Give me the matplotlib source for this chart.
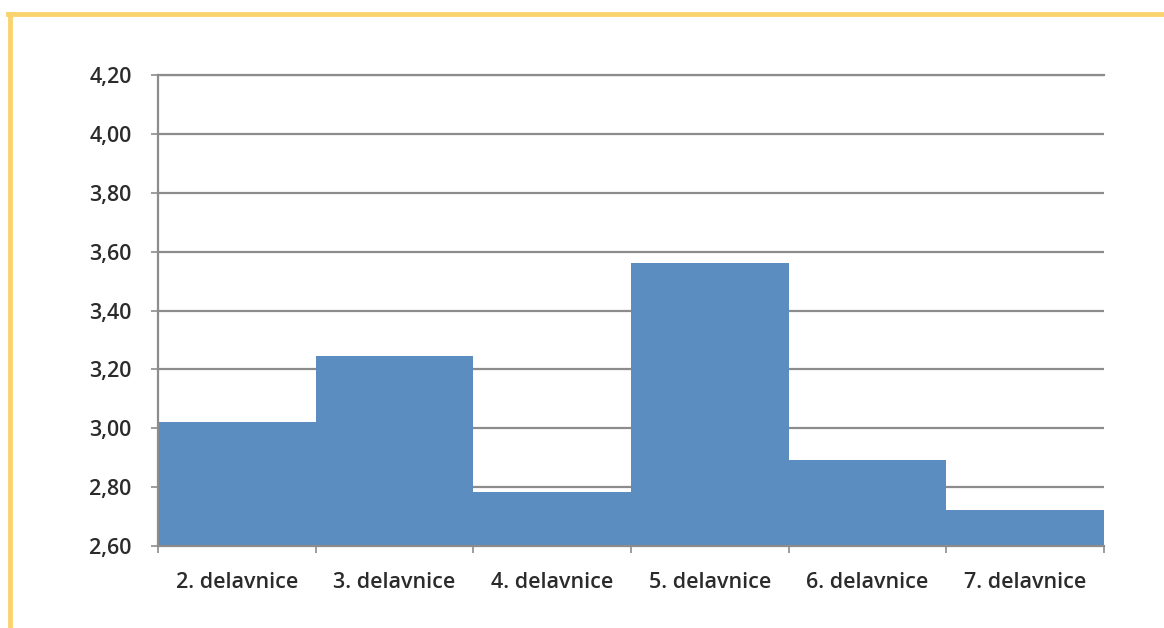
import matplotlib.pyplot as plt
from matplotlib.lines import Line2D
from matplotlib.ticker import FuncFormatter, FixedLocator

# Workshop averages
categories = ["2. delavnice", "3. delavnice", "4. delavnice",
              "5. delavnice", "6. delavnice", "7. delavnice"]
values = [3.02, 3.245, 2.783, 3.562, 2.892, 2.722]
y_ticks = [2.60, 2.80, 3.00, 3.20, 3.40, 3.60, 3.80, 4.00, 4.20]

plt.rcParams['font.family'] = ['Open Sans', 'DejaVu Sans']

fig = plt.figure(figsize=(11.64, 6.28), dpi=100)
ax = fig.add_axes([158 / 1164, 82 / 628, 946 / 1164, 471 / 628])

base = y_ticks[0]
xs = list(range(len(categories)))
ax.bar(xs, [v - base for v in values], bottom=base, width=1.0, align='edge',
       color='#5b8dc1', zorder=3)

ax.set_ylim(y_ticks[0], y_ticks[-1])
ax.set_xlim(0, len(categories))
ax.set_yticks(y_ticks)
ax.yaxis.set_major_formatter(FuncFormatter(lambda v, p: f"{v:.2f}".replace('.', ',')))
ax.grid(axis='y', color='#8c8c8c', linewidth=1.6, zorder=1)
ax.axhline(y_ticks[-1], color='#8c8c8c', linewidth=1.6, clip_on=False, zorder=1)

ax.set_xticks([x + 0.5 for x in xs])
ax.set_xticklabels(categories)
ax.xaxis.set_minor_locator(FixedLocator(list(range(len(categories) + 1))))
ax.tick_params(axis='x', which='major', length=0, pad=19)
ax.tick_params(axis='x', which='minor', length=5, width=1.2, color='#8c8c8c')
ax.tick_params(axis='y', length=5, width=1.2, color='#8c8c8c', pad=14)
ax.tick_params(labelsize=15.5, labelcolor='#2b2b2b')
for lbl in ax.get_xticklabels() + ax.get_yticklabels():
    lbl.set_fontweight('semibold')

for side in ['top', 'right']:
    ax.spines[side].set_visible(False)
for side in ['left', 'bottom']:
    ax.spines[side].set_color('#8c8c8c')
    ax.spines[side].set_linewidth(1.6)
    ax.spines[side].set_zorder(4)

# yellow frame along the top and left edges
fig.add_artist(Line2D([8 / 1164, 1], [1 - 14 / 628, 1 - 14 / 628],
                      color='#f9d36f', linewidth=3.5, transform=fig.transFigure))
fig.add_artist(Line2D([10 / 1164, 10 / 1164], [0, 1 - 14 / 628],
                      color='#f9d36f', linewidth=3.5, transform=fig.transFigure))

fig.savefig("out.png", dpi=100)
